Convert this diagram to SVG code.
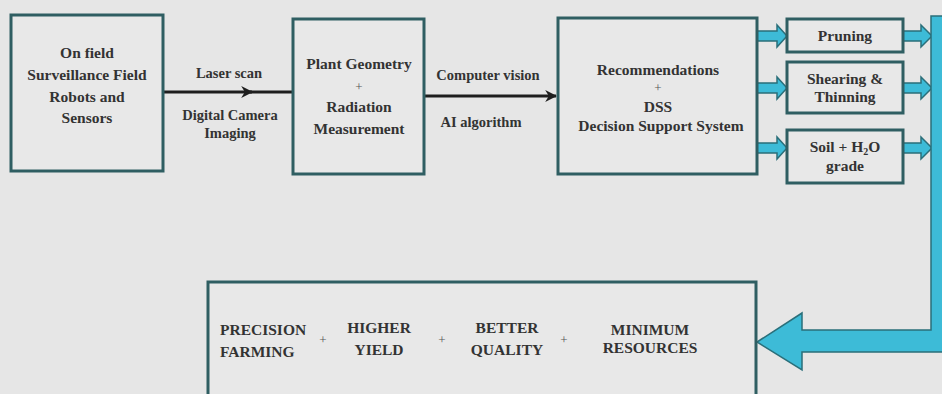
<svg xmlns="http://www.w3.org/2000/svg" width="942" height="394" viewBox="0 0 942 394">
<style>
.bg{fill:#e6e6e6}
.box{fill:#e8e8e8;stroke:#2f5e62;stroke-width:3}
.t{font-family:'Liberation Serif','DejaVu Serif',serif;font-weight:bold;font-size:15.5px;fill:#333;text-anchor:middle}
.e{font-size:14.5px}
.l{text-anchor:start}
.pl{font-family:'Liberation Serif','DejaVu Serif',serif;font-weight:normal;font-size:13px;fill:#555;text-anchor:middle}
.blk{stroke:#1e1e1e;stroke-width:3;fill:none}
.ba{fill:#3dbbd7;stroke:#2a6f7a;stroke-width:1.5}
</style>
<defs>
<marker id="ah" viewBox="0 0 10 10" refX="9" refY="5" markerWidth="4" markerHeight="4" orient="auto" markerUnits="strokeWidth">
<path d="M0,0 L10,5 L0,10 L3,5 Z" fill="#1e1e1e"/>
</marker>
</defs>
<rect class="bg" x="0" y="0" width="942" height="394"/>

<g id="connectors">
<line class="blk" x1="163" y1="92" x2="252" y2="92" marker-end="url(#ah)"/>
<line class="blk" x1="250" y1="92" x2="293" y2="92"/>
<line class="blk" x1="424" y1="96" x2="556" y2="96" marker-end="url(#ah)"/>
<path class="ba" d="M757,31 H777 V25 L787,36 L777,47 V41 H757 Z"/>
<path class="ba" d="M757,83 H777 V77 L787,88 L777,99 V93 H757 Z"/>
<path class="ba" d="M757,143 H777 V137 L787,148 L777,159 V153 H757 Z"/>
<path class="ba" d="M903,31 H921 V25 L932,36 L921,47 V41 H903 Z"/>
<path class="ba" d="M903,83 H921 V77 L932,88 L921,99 V93 H903 Z"/>
<path class="ba" d="M903,143 H921 V137 L932,148 L921,159 V153 H903 Z"/>
<path class="ba" d="M931,16 H952 V352 H802 V370 L757,342 L802,313 V330 H931 Z"/>
<text class="t e" x="229" y="78">Laser scan</text>
<text class="t e" x="230" y="120">Digital Camera</text>
<text class="t e" x="230" y="138">Imaging</text>
<text class="t e" x="488" y="80">Computer vision</text>
<text class="t e" x="481" y="127">AI algorithm</text>
</g>

<g id="n1">
<rect class="box" x="11" y="15" width="152" height="156"/>
<text class="t" x="87" y="58">On field</text>
<text class="t" x="87" y="80">Surveillance Field</text>
<text class="t" x="87" y="102">Robots and</text>
<text class="t" x="87" y="123">Sensors</text>
</g>

<g id="n2">
<rect class="box" x="293" y="19" width="131" height="155"/>
<text class="t" x="359" y="69">Plant Geometry</text>
<text class="pl" x="359" y="91">+</text>
<text class="t" x="359" y="112">Radiation</text>
<text class="t" x="359" y="134">Measurement</text>
</g>

<g id="n3">
<rect class="box" x="558" y="18" width="199" height="156"/>
<text class="t" x="658" y="75">Recommendations</text>
<text class="pl" x="658" y="92">+</text>
<text class="t" x="658" y="112">DSS</text>
<text class="t" x="661" y="131">Decision Support System</text>
</g>

<g id="n4">
<rect class="box" x="787" y="19" width="116" height="33"/>
<text class="t" x="845" y="41">Pruning</text>
</g>

<g id="n5">
<rect class="box" x="787" y="62" width="116" height="51"/>
<text class="t" x="845" y="84">Shearing &amp;</text>
<text class="t" x="845" y="102">Thinning</text>
</g>

<g id="n6">
<rect class="box" x="787" y="130" width="116" height="53"/>
<text class="t" x="845" y="152">Soil + H<tspan font-size="10" dy="3">2</tspan><tspan dy="-3">O</tspan></text>
<text class="t" x="845" y="171">grade</text>
</g>

<g id="n7">
<rect class="box" x="208" y="282" width="548" height="130"/>
<text class="t l" x="220" y="335">PRECISION</text>
<text class="t l" x="220" y="357">FARMING</text>
<text class="pl" x="323" y="344">+</text>
<text class="t" x="379" y="333">HIGHER</text>
<text class="t" x="379" y="355">YIELD</text>
<text class="pl" x="442" y="344">+</text>
<text class="t" x="507" y="333">BETTER</text>
<text class="t" x="507" y="355">QUALITY</text>
<text class="pl" x="564" y="344">+</text>
<text class="t" x="650" y="335">MINIMUM</text>
<text class="t" x="650" y="353">RESOURCES</text>
</g>
</svg>
